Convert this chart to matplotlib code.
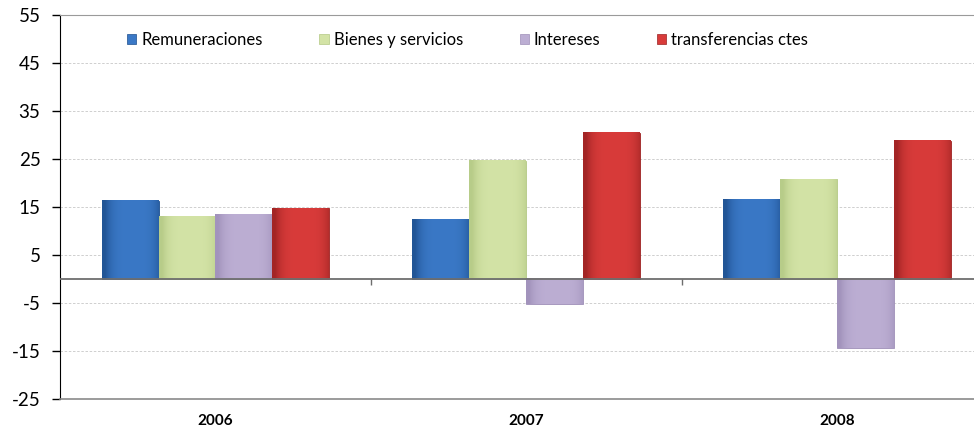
import numpy as np
import matplotlib
matplotlib.use("Agg")
import matplotlib.pyplot as plt
from matplotlib.patches import Patch
from matplotlib.colors import to_rgb

plt.rcParams['font.family'] = ['Lato', 'DejaVu Sans']

years = ['2006', '2007', '2008']
series = ['Remuneraciones', 'Bienes y servicios', 'Intereses', 'transferencias ctes']
remuneraciones = [16.3, 12.4, 16.6]
bienes = [13.0, 24.6, 20.8]
intereses = [13.5, -5.3, -14.4]
transferencias = [14.7, 30.5, 28.8]
values = [remuneraciones, bienes, intereses, transferencias]

colors = ['#3a78c6', '#d3e3a6', '#bcaed3', '#d83b3a']
dark = ['#1d4f8e', '#b3c884', '#9e8fb8', '#9a2222']
y_ticks = list(range(-25, 56, 10))

W, H = 974, 440
fig = plt.figure(figsize=(W / 100, H / 100), dpi=100)
ax = fig.add_axes([60 / W, (H - 399) / H, 932.5 / W, 384 / H])

x = np.arange(len(years))
bw = 0.183
offs = (np.arange(4) - 1.5) * bw


def shade(c, d, n=64):
    # light in the middle, darker toward the sides
    c = np.array(to_rgb(c))
    d = np.array(to_rgb(d))
    t = np.linspace(-1, 1, n)
    w = np.clip(np.abs(t - 0.1) ** 4, 0, 1) * 0.85
    img = c[None, :] * (1 - w[:, None]) + d[None, :] * w[:, None]
    return img[None, :, :]


for i, vals in enumerate(values):
    bars = ax.bar(x + offs[i], vals, bw, color=colors[i], edgecolor=dark[i],
                  linewidth=0.6, zorder=3, label=series[i])
    for b in bars:
        x0, y0 = b.get_x(), b.get_y()
        x1, y1 = x0 + b.get_width(), y0 + b.get_height()
        ax.imshow(shade(colors[i], dark[i]), extent=[x0, x1, min(y0, y1), max(y0, y1)],
                  aspect='auto', zorder=3.5, interpolation='bilinear')

ax.set_xlim(-0.5, 2.5)
ax.set_ylim(-25, 55)
ax.set_yticks(y_ticks)
ax.set_yticklabels([str(v) for v in y_ticks], fontsize=13.5)
ax.tick_params(axis='y', length=6, width=1, pad=8, color='black')
ax.set_xticks(x)
ax.set_xticklabels(years, fontsize=11, fontweight='bold')
ax.tick_params(axis='x', length=0, pad=11)

for v in y_ticks[1:-1]:
    ax.axhline(v, color='#c8c8c8', lw=0.6, ls=(0, (3, 2)), zorder=1)
ax.axhline(0, color='#6e6e6e', lw=1.3, zorder=4)
ax.vlines([0.5, 1.5], -1.3, 0, color='#6e6e6e', lw=1, zorder=4)

ax.spines['right'].set_visible(False)
ax.spines['top'].set_color('#9a9a9a')
ax.spines['bottom'].set_color('#8a8a8a')
ax.spines['bottom'].set_linewidth(1.2)
ax.spines['left'].set_color('black')

handles = [Patch(facecolor=colors[i], edgecolor=dark[i], linewidth=0.5) for i in range(4)]
ax.legend(handles, series, loc='center left', bbox_to_anchor=(0.056, 0.935), ncol=4,
          frameon=False, fontsize=12, handlelength=0.55, handleheight=0.55,
          handletextpad=0.3, columnspacing=3.4)

fig.savefig('out.png', dpi=100)
